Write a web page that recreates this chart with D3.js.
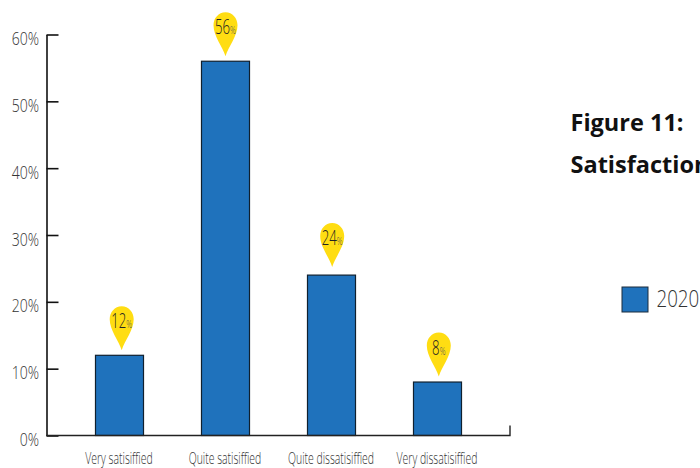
<!DOCTYPE html>
<html><head><meta charset="utf-8">
<script src="https://cdn.jsdelivr.net/npm/d3@7"></script>
<style>html,body{margin:0;padding:0;background:#fff;overflow:hidden}svg{display:block}
text{font-family:"Open Sans",sans-serif}</style></head>
<body><svg id="c" width="700" height="468"></svg>
<script>
const categories=["Very satisiffied","Quite satisiffied","Quite dissatisiffied","Very dissatisiffied"];
const values2020=[12,56,24,8];
const yTicks=[0,10,20,30,40,50,60];
const seriesName="2020";
const titleLines=["Figure 11:","Satisfaction"];
const svg=d3.select("#c");
const x=d3.scaleBand().domain(categories).range([66.5,490.5]).paddingInner(0.547).paddingOuter(0.2735);
const y=d3.scaleLinear().domain([0,60]).range([435.5,34.5]);
const blue="#1f72bc",yellow="#ffdd12";
// bars
svg.selectAll("rect.bar").data(categories).join("rect").attr("class","bar")
 .attr("x",d=>x(d)).attr("width",x.bandwidth())
 .attr("y",(d,i)=>y(values2020[i])).attr("height",(d,i)=>y(0)-y(values2020[i]))
 .attr("fill",blue).attr("stroke","#10202e").attr("stroke-width",1.2);
// axes
const yAxis=d3.axisLeft(y).tickValues(yTicks).tickSize(0).tickPadding(0).tickFormat(d=>d+"%");
const gy=svg.append("g").attr("transform","translate(46.5,0)").call(yAxis);
gy.select(".domain").attr("stroke","#111").attr("stroke-width",1.6);
gy.selectAll(".tick line").attr("x1",0).attr("x2",12).attr("stroke","#111").attr("stroke-width",1.6);
gy.selectAll(".tick text").attr("x",null).attr("dy",null).attr("text-anchor","end")
 .attr("font-size",18).attr("font-weight",300).attr("fill","#333")
 .attr("transform","translate(-7.5,10) scale(0.78,1)");
const xLine=d3.axisBottom(d3.scaleLinear().domain([0,1]).range([46.5,510])).tickValues([]).tickSize(0);
const gx=svg.append("g").attr("transform","translate(0,435.5)").call(xLine);
gx.select(".domain").attr("stroke","#222").attr("stroke-width",1.4).attr("d","M46.5,0H510V-10");
svg.selectAll("text.cat").data(categories).join("text").attr("class","cat")
 .attr("text-anchor","middle").attr("font-size",17).attr("font-weight",300).attr("fill","#333")
 .attr("transform",d=>`translate(${x(d)+x.bandwidth()/2-0.5},464) scale(0.615,1)`).text(d=>d);
// pins
const pinShiftX=[2.2,0,0.7,1.3],pinShiftY=[0,0,-3,-0.5];
const pin=d3.path();
pin.moveTo(0,-5);pin.bezierCurveTo(-3,-15,-12,-25,-12,-36);
pin.bezierCurveTo(-12,-43,-7,-49,0,-49);pin.bezierCurveTo(7,-49,12,-43,12,-36);
pin.bezierCurveTo(12,-25,3,-15,0,-5);pin.closePath();
const pins=svg.selectAll("g.pin").data(categories).join("g").attr("class","pin")
 .attr("transform",(d,i)=>`translate(${x(d)+x.bandwidth()/2+pinShiftX[i]},${y(values2020[i])+pinShiftY[i]})`);
pins.append("path").attr("d",pin.toString()).attr("fill",yellow);
const lab=pins.append("text").attr("text-anchor","middle").attr("font-weight",300).attr("fill","#222")
 .attr("transform","translate(0,-27) scale(0.66,1)");
lab.append("tspan").attr("font-size",20).text((d,i)=>values2020[i]);
lab.append("tspan").attr("font-size",11).attr("fill","#555").text("%");
// title
svg.selectAll("text.title").data(titleLines).join("text").attr("class","title")
 .attr("x",570.5).attr("y",(d,i)=>131+i*42).attr("font-size",23.5).attr("font-weight",700).attr("fill","#111").text(d=>d);
// legend
svg.append("rect").attr("x",622).attr("y",287).attr("width",26).attr("height",25).attr("fill",blue).attr("stroke","#1c2c3c").attr("stroke-width",1);
svg.append("text").attr("font-size",24).attr("font-weight",300).attr("fill","#333")
 .attr("transform","translate(656.5,307) scale(0.78,1)").text(seriesName);
</script></body></html>
